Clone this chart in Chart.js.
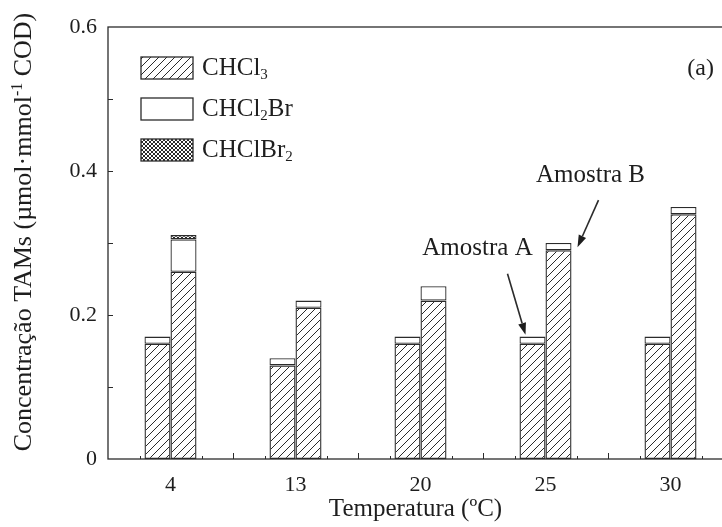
<!DOCTYPE html>
<html>
<head>
<meta charset="utf-8">
<style>
  html, body { margin: 0; padding: 0; background: #fff; overflow: hidden; }
  #wrap { width: 740px; height: 527px; }
</style>
<script src="https://cdn.jsdelivr.net/npm/chart.js@4.4.0/dist/chart.umd.min.js"></script>
</head>
<body>
<div id="wrap"><canvas id="chart" width="740" height="527"></canvas></div>
<script>
(function () {
  "use strict";

  // ── Data ───────────────────────────────────
  var temperatures = ["4", "13", "20", "25", "30"];
  var amostraA_CHCl3 = [0.16, 0.13, 0.16, 0.16, 0.16];
  var amostraA_CHCl2Br = [0.01, 0.01, 0.01, 0.01, 0.01];
  var amostraB_CHCl3 = [0.26, 0.21, 0.22, 0.29, 0.34];
  var amostraB_CHCl2Br = [0.045, 0.01, 0.02, 0.01, 0.01];
  var amostraB_CHClBr2 = [0.006, null, null, null, null];
  var yTicks = [0, 0.2, 0.4, 0.6];

  var SERIF = "'Liberation Serif', 'Times New Roman', serif";
  var INK = "#2b2b2b";

  // ── Fill patterns ──────────────────────────
  function hatchPattern() {
    var s = 8;
    var c = document.createElement("canvas");
    c.width = s; c.height = s;
    var g = c.getContext("2d");
    g.strokeStyle = INK;
    g.lineWidth = 1;
    g.beginPath();
    g.moveTo(0, s); g.lineTo(s, 0);
    g.moveTo(-1, 1); g.lineTo(1, -1);
    g.moveTo(s - 1, s + 1); g.lineTo(s + 1, s - 1);
    g.stroke();
    return g.createPattern(c, "repeat");
  }

  function crossPattern() {
    var s = 4;
    var c = document.createElement("canvas");
    c.width = s; c.height = s;
    var g = c.getContext("2d");
    g.fillStyle = "#fff";
    g.fillRect(0, 0, s, s);
    g.strokeStyle = INK;
    g.lineWidth = 1;
    g.beginPath();
    g.moveTo(0, s); g.lineTo(s, 0);
    g.moveTo(0, 0); g.lineTo(s, s);
    g.stroke();
    return g.createPattern(c, "repeat");
  }

  var HATCH = hatchPattern();
  var CROSS = crossPattern();

  // text with sub/superscripts: parts = [[text, 0 normal | 1 sub | 2 sup]]
  function partsWidth(ctx, parts, size) {
    var w = 0;
    parts.forEach(function (p) {
      ctx.font = (p[1] ? Math.round(size * 0.6) : size) + "px " + SERIF;
      w += ctx.measureText(p[0]).width;
    });
    return w;
  }

  function drawParts(ctx, parts, x, y, size) {
    parts.forEach(function (p) {
      var sz = p[1] ? Math.round(size * 0.6) : size;
      var dy = p[1] === 1 ? size * 0.3 : p[1] === 2 ? -size * 0.35 : 0;
      ctx.font = sz + "px " + SERIF;
      ctx.fillText(p[0], x, y + dy);
      x += ctx.measureText(p[0]).width;
    });
  }

  function arrow(ctx, x1, y1, x2, y2) {
    var a = Math.atan2(y2 - y1, x2 - x1);
    var len = 12, half = 4;
    var bx = x2 - len * Math.cos(a), by = y2 - len * Math.sin(a);
    ctx.beginPath();
    ctx.moveTo(x1, y1);
    ctx.lineTo(bx, by);
    ctx.lineWidth = 1.6;
    ctx.stroke();
    ctx.beginPath();
    ctx.moveTo(x2, y2);
    ctx.lineTo(bx + half * Math.sin(a), by - half * Math.cos(a));
    ctx.lineTo(bx - half * Math.sin(a), by + half * Math.cos(a));
    ctx.closePath();
    ctx.fill();
  }

  var legendItems = [
    { fill: HATCH, parts: [["CHCl", 0], ["3", 1]] },
    { fill: "#fff", parts: [["CHCl", 0], ["2", 1], ["Br", 0]] },
    { fill: CROSS, parts: [["CHClBr", 0], ["2", 1]] },
  ];

  // ── Frame, inward ticks, legend, labels ────
  var decorations = {
    id: "decorations",
    afterDraw: function (chart) {
      var ctx = chart.ctx;
      var a = chart.chartArea;
      var xs = chart.scales.x, ys = chart.scales.y;
      ctx.save();
      ctx.strokeStyle = INK;
      ctx.fillStyle = "#1e1e1e";

      // frame
      ctx.lineWidth = 1.3;
      ctx.strokeRect(a.left, a.top, a.right - a.left, a.bottom - a.top);

      // y ticks (inward)
      ctx.lineWidth = 1;
      ctx.beginPath();
      for (var k = 1; k < 6; k++) {
        var py = Math.round(ys.getPixelForValue(k / 10)) + 0.5;
        ctx.moveTo(a.left, py); ctx.lineTo(a.left + 5, py);
      }
      // x ticks: tall at category boundaries, short beside each group
      var metaA = chart.getDatasetMeta(0), metaB = chart.getDatasetMeta(2);
      temperatures.forEach(function (t, i) {
        var barA = metaA.data[i], barB = metaB.data[i];
        var l = Math.round(barA.x - barA.width / 2 - 5) + 0.5;
        var r = Math.round(barB.x + barB.width / 2 + 5) + 0.5;
        ctx.moveTo(l, a.bottom); ctx.lineTo(l, a.bottom - 3);
        ctx.moveTo(r, a.bottom); ctx.lineTo(r, a.bottom - 3);
        if (i < temperatures.length - 1) {
          var mid = Math.round((xs.getPixelForValue(i) + xs.getPixelForValue(i + 1)) / 2) + 0.5;
          ctx.moveTo(mid, a.bottom); ctx.lineTo(mid, a.bottom - 6);
        }
      });
      ctx.stroke();

      // legend
      ctx.textBaseline = "middle";
      ctx.textAlign = "left";
      legendItems.forEach(function (it, i) {
        var bx = a.left + 33, by = a.top + 30 + i * 41;
        ctx.fillStyle = it.fill;
        ctx.fillRect(bx, by, 52, 22);
        ctx.lineWidth = 1.3;
        ctx.strokeRect(bx, by, 52, 22);
        ctx.fillStyle = "#1e1e1e";
        drawParts(ctx, it.parts, bx + 61, by + 11, 25);
      });

      // panel letter
      ctx.font = "24px " + SERIF;
      ctx.textAlign = "right";
      ctx.fillText("(a)", 714, a.top + 42);

      // sample annotations
      var a25 = metaA.data[3], b25 = metaB.data[3];
      ctx.textAlign = "center";
      ctx.font = "25px " + SERIF;
      ctx.fillText("Amostra A", a25.x - 55, a25.y - 95);
      arrow(ctx, a25.x - 25, a25.y - 70, a25.x - 7, a25.y - 9);
      ctx.fillText("Amostra B", b25.x + 32, b25.y - 75);
      arrow(ctx, b25.x + 40, b25.y - 50, b25.x + 19, b25.y - 3);

      // axis titles
      ctx.textAlign = "left";
      ctx.textBaseline = "alphabetic";
      var yParts = [["Concentração TAMs (µmol·mmol", 0], ["-1", 2], [" COD)", 0]];
      var yw = partsWidth(ctx, yParts, 26);
      ctx.save();
      ctx.translate(31, 232);
      ctx.rotate(-Math.PI / 2);
      drawParts(ctx, yParts, -yw / 2, 0, 26);
      ctx.restore();

      var xParts = [["Temperatura (ºC)", 0]];
      var xw = partsWidth(ctx, xParts, 25);
      drawParts(ctx, xParts, (a.left + a.right) / 2 - 5 - xw / 2, 516, 25);

      ctx.restore();
    },
  };

  function bars(label, stack, values, fill) {
    return {
      label: label,
      stack: stack,
      data: values,
      backgroundColor: fill,
      borderColor: INK,
      borderWidth: 1.3,
      borderSkipped: false,
      barPercentage: 1,
      categoryPercentage: 0.416,
    };
  }

  new Chart(document.getElementById("chart"), {
    type: "bar",
    data: {
      labels: temperatures,
      datasets: [
        bars("CHCl3", "A", amostraA_CHCl3, HATCH),
        bars("CHCl2Br", "A", amostraA_CHCl2Br, "#fff"),
        bars("CHCl3", "B", amostraB_CHCl3, HATCH),
        bars("CHCl2Br", "B", amostraB_CHCl2Br, "#fff"),
        bars("CHClBr2", "B", amostraB_CHClBr2, CROSS),
      ],
    },
    options: {
      responsive: false,
      animation: false,
      devicePixelRatio: 1,
      layout: { padding: { top: 27, right: 7, left: 0, bottom: 0 } },
      plugins: {
        legend: { display: false },
        tooltip: { enabled: false },
      },
      scales: {
        x: {
          stacked: true,
          grid: { display: false },
          border: { display: false },
          ticks: {
            font: { family: SERIF, size: 22 },
            color: "#1e1e1e",
            padding: 5,
            maxRotation: 0,
          },
          afterFit: function (s) { s.height = 68; },
        },
        y: {
          stacked: true,
          min: 0,
          max: 0.6,
          afterBuildTicks: function (s) {
            s.ticks = yTicks.map(function (v) { return { value: v }; });
          },
          grid: { display: false },
          border: { display: false },
          ticks: {
            font: { family: SERIF, size: 22 },
            color: "#1e1e1e",
            padding: 3,
            callback: function (v) { return v === 0 ? "0" : v.toFixed(1); },
          },
          afterFit: function (s) { s.width = 108; },
        },
      },
    },
    plugins: [decorations],
  });
})();
</script>
</body>
</html>
